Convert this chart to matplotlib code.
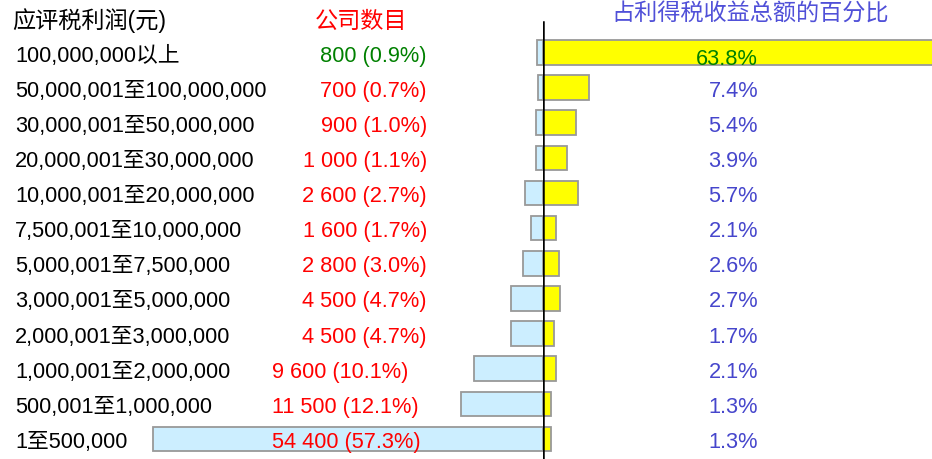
import matplotlib.pyplot as plt
from matplotlib.transforms import blended_transform_factory

plt.rcParams['font.family'] = ['Liberation Sans', 'Noto Sans CJK SC', 'DejaVu Sans']

# Profit bands, company counts and shares
bands = ["100,000,000以上", "50,000,001至100,000,000", "30,000,001至50,000,000",
         "20,000,001至30,000,000", "10,000,001至20,000,000", "7,500,001至10,000,000",
         "5,000,001至7,500,000", "3,000,001至5,000,000", "2,000,001至3,000,000",
         "1,000,001至2,000,000", "500,001至1,000,000", "1至500,000"]
companies = ["800", "700", "900", "1 000", "2 600", "1 600", "2 800", "4 500", "4 500",
             "9 600", "11 500", "54 400"]
company_pct = [0.9, 0.7, 1.0, 1.1, 2.7, 1.7, 3.0, 4.7, 4.7, 10.1, 12.1, 57.3]
tax_pct = [63.8, 7.4, 5.4, 3.9, 5.7, 2.1, 2.6, 2.7, 1.7, 2.1, 1.3, 1.3]

W, H = 932, 459
cx = 543            # pixel of the centre line
row0, step = 52.5, 35.14
left_scale, right_scale = 6.8, 6.2   # px per percent

fig = plt.figure(figsize=(W / 100, H / 100), dpi=100)
y_lim = ((H - row0) / step, -row0 / step)

axl = fig.add_axes([0, 0, cx / W, 1])
axr = fig.add_axes([cx / W, 0, (W - cx) / W, 1])
axl.set_xlim(-cx / left_scale, 0)
axr.set_xlim(0, (W - cx) / right_scale)
for ax in (axl, axr):
    ax.set_ylim(*y_lim)
    ax.axis('off')

rows = list(range(len(bands)))
axl.barh(rows, [-v for v in company_pct], height=0.7, color='#cceeff',
         edgecolor='#999999', linewidth=1.3, clip_on=False)
axr.barh(rows, tax_pct, height=0.7, color='#ffff00',
         edgecolor='#999999', linewidth=1.3)
axr.axvline(0, ymin=0, ymax=1 - 22 / H, color='black', lw=1.8, zorder=5)

tr = blended_transform_factory(fig.transFigure, axl.transData)
fs = 15.7
hfs = 16.7
blue = '#4646cc'
for i in rows:
    yy = i + 0.1
    fig.text(15 / W, yy, bands[i], transform=tr, fontsize=fs, va='center', ha='left')
    col = 'green' if i == 0 else 'red'
    label = f"{companies[i]} ({company_pct[i]:.1f}%)"
    if i < 9:
        fig.text(427 / W, yy, label, transform=tr, fontsize=fs, va='center',
                 ha='right', color=col)
    else:
        fig.text(272 / W, yy, label, transform=tr, fontsize=fs, va='center',
                 ha='left', color=col)
    fig.text(758 / W, yy + (0.1 if i == 0 else 0), f"{tax_pct[i]:.1f}%",
             transform=tr, fontsize=fs, va='center', ha='right',
             color='green' if i == 0 else blue)

fig.text(12 / W, 1 - 21 / H, "应评税利润(元)", fontsize=hfs, va='center', ha='left')
fig.text(315 / W, 1 - 21 / H, "公司数目", fontsize=hfs, va='center', ha='left', color='red')
fig.text(750 / W, 1 - 13 / H, "占利得税收益总额的百分比", fontsize=hfs, va='center',
         ha='center', color='#5050d8')

fig.savefig('out.png', dpi=100)
